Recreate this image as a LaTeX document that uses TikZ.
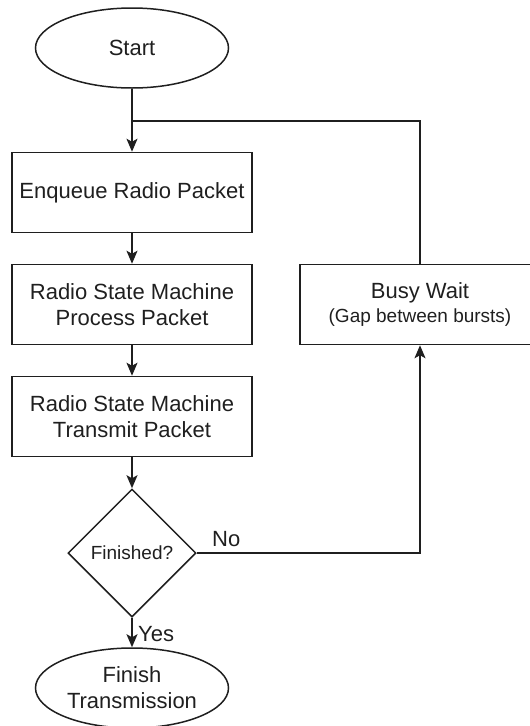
\documentclass[tikz,border=0pt]{standalone}
\usepackage{fontspec}
\setmainfont{Liberation Sans}
\usetikzlibrary{shapes.geometric,arrows.meta}
\begin{document}
\begin{tikzpicture}[x=1pt,y=-1pt,
  every node/.style={font=\fontsize{22}{26}\selectfont, text=black!88},
  ln/.style={draw=black!88, line width=1.5pt},
  procbox/.style={ln, rectangle, minimum width=240pt, minimum height=80pt, inner sep=0pt, align=center},
  terminal/.style={ln, ellipse, minimum width=193pt, minimum height=80pt, inner sep=0pt, align=center},
  decision/.style={ln, diamond, minimum width=128pt, minimum height=128pt, inner sep=0pt, align=center},
  flow/.style={ln, -{Stealth[length=13pt,width=11pt,inset=3pt]}},
  lbl/.style={inner sep=0pt}
]
\useasboundingbox (0,0) rectangle (530,726);

\node[terminal] (start) at (132,48) {Start};
\node[procbox] (enq) at (132,192.5) {Enqueue Radio Packet};
\node[procbox] (proc) at (132,304.5) {Radio State Machine\\Process Packet};
\node[procbox] (tx) at (132,416.5) {Radio State Machine\\Transmit Packet};
\node[decision, font=\fontsize{19}{22}\selectfont] (fin) at (132,553) {Finished?};
\node[terminal] (done) at (132,688) {Finish\\Transmission};
\node[procbox] (wait) at (420,304.5) {Busy Wait\\[-2pt]{\fontsize{19}{22}\selectfont (Gap between bursts)}};

\coordinate (join) at (132,121);

\draw[flow] (start) -- (enq);
\draw[flow] (enq) -- (proc);
\draw[flow] (proc) -- (tx);
\draw[flow] (tx) -- (fin);
\draw[flow] (fin) -- (done);
\draw[flow] (fin.east) -| (wait.south);
\draw[ln] (wait.north) |- (join);

\node[lbl, anchor=west] (yes) at (138,634) {Yes};
\node[lbl, anchor=west] (no) at (212,539) {No};
\end{tikzpicture}
\end{document}
